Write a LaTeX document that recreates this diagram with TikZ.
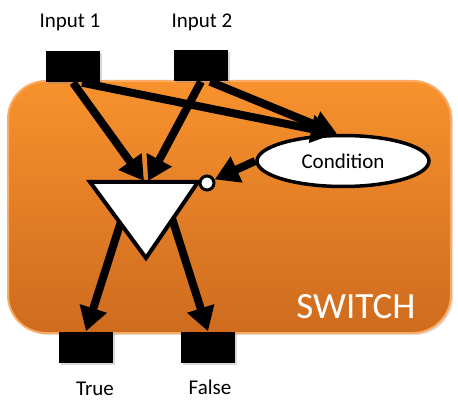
\documentclass[tikz,border=0pt]{standalone}
\usepackage{fontspec}
\setmainfont{Carlito}
\usetikzlibrary{arrows.meta,shapes.geometric,shadows}
\definecolor{swtop}{RGB}{248,146,46}
\definecolor{swbot}{RGB}{206,107,30}
\definecolor{swedge}{RGB}{250,172,100}
\tikzset{
  port/.style={fill=black,minimum width=54pt,minimum height=31pt,inner sep=0pt,
    drop shadow={opacity=0.3,shadow xshift=1.5pt,shadow yshift=-2pt}},
  lbl/.style={font=\fontsize{21}{24}\selectfont},
  wire/.style={line width=8pt,-{Triangle[length=24pt,width=27pt]}},
}
\begin{document}
\begin{tikzpicture}[x=1pt,y=-1pt]
  \useasboundingbox (0,0) rectangle (458,417);
  % switch body
  \draw[swedge,line width=2pt,top color=swtop,bottom color=swbot,rounded corners=38pt,
    drop shadow={opacity=0.25,shadow xshift=2pt,shadow yshift=-2pt}] (8,81) rectangle (451,333);
  \node[white,font=\fontsize{37}{40}\selectfont] (sw) at (356,307) {SWITCH};
  % ports
  \node[port] (in1) at (73,67) {};
  \node[port] (in2) at (201,66) {};
  \node[port] (t) at (86,347) {};
  \node[port] (f) at (208,347) {};
  \node[lbl] (lin1) at (70,22) {Input 1};
  \node[lbl] (lin2) at (202,22) {Input 2};
  \node[lbl] (lt) at (95,389) {True};
  \node[lbl] (lf) at (210,387) {False};
  % outputs
  \coordinate (tl) at (124,212);
  \coordinate (tr) at (170,212);
  \draw[wire] (tl) -- (t.north);
  \draw[wire] (tr) -- (f.north);
  % gate
  \coordinate (ta) at (90,182);
  \coordinate (tb) at (198,182);
  \coordinate (tc) at (146,258);
  \coordinate (tin) at (146,181);
  \draw[fill=white,line width=4pt,line join=miter] (ta) -- (tb) -- (tc) -- cycle;
  \node[circle,draw,fill=white,line width=3pt,minimum size=14pt,inner sep=0pt] (inv) at (207,183) {};
  \node[ellipse,draw,fill=white,line width=3.5pt,minimum width=172pt,minimum height=51pt,lbl] (cond) at (343,161) {Condition};
  % inputs
  \draw[wire] (in1.south) -- ([xshift=-2pt]tin);
  \draw[wire] (in2.south) -- ([xshift=2pt]tin);
  \draw[wire] ([xshift=9pt]in1.south) -- ([xshift=-8pt]cond.north);
  \draw[wire] ([xshift=9pt]in2.south) -- ([xshift=-6pt]cond.north);
  \draw[wire] (cond.west) -- (inv);
\end{tikzpicture}
\end{document}
